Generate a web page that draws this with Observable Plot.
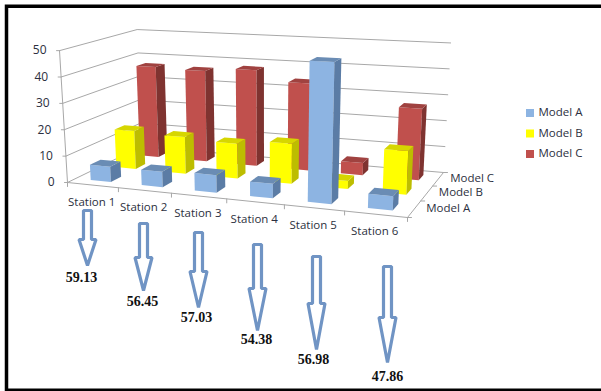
<!DOCTYPE html>
<html>
<head>
<meta charset="utf-8">
<script src="https://cdn.jsdelivr.net/npm/d3@7"></script>
<script src="https://cdn.jsdelivr.net/npm/@observablehq/plot@0.6"></script>
<style>
  html, body { margin: 0; padding: 0; background: #fff; }
  svg { display: block; }
</style>
</head>
<body>
<div id="chart"></div>
<script>
// Category lists
const stations = ["Station 1", "Station 2", "Station 3", "Station 4", "Station 5", "Station 6"];
const models = ["Model A", "Model B", "Model C"];
const valueTicks = [0, 10, 20, 30, 40, 50];

// Series values, one per station
const modelA = [5.8, 5.8, 6.4, 5.2, 50, 4.9];
const modelB = [15, 14.2, 13.3, 15, 3, 15.7];
const modelC = [37, 36.5, 38, 34, 4.7, 27];

// Figure printed beneath each station's arrow
const stationTotals = ["59.13", "56.45", "57.03", "54.38", "56.98", "47.86"];

// Arrow placement under the station labels, in page units
const arrowCentres = [87, 143, 198, 257, 316, 387];
const arrowTops = [210, 223, 232, 244, 256, 266];
const arrowShoulders = [239, 257, 271, 288, 303, 317];
const arrowTips = [268, 293, 310, 333, 352, 365];
const totalX = [81, 142, 196, 256, 313, 387];
const totalY = [277, 301, 317, 339, 359, 376];

// Face colours: front, side, top
const palette = {
  "Model A": ["#8db4e2", "#5b7ca5", "#6a8cb4"],
  "Model B": ["#ffff00", "#bdbd00", "#d6d600"],
  "Model C": ["#c0504d", "#7f3330", "#a04240"]
};
const seriesByModel = {"Model A": modelA, "Model B": modelB, "Model C": modelC};

const width = 601, height = 391;
const maxValue = 50;

// Camera: the floor of the plot box, the point where verticals converge,
// and how far the box rises at the front-left corner
const floorQuad = [[67, 182], [407, 217], [443, 172], [141, 146]];
const verticalVanish = [264, 3438];
const rise = 0.0405;

// Unit-square to quadrilateral perspective mapping
function quadMap([p0, p1, p2, p3]) {
  const dx1 = p1[0] - p2[0], dx2 = p3[0] - p2[0], sx = p0[0] - p1[0] + p2[0] - p3[0];
  const dy1 = p1[1] - p2[1], dy2 = p3[1] - p2[1], sy = p0[1] - p1[1] + p2[1] - p3[1];
  const d = dx1 * dy2 - dx2 * dy1;
  const g = (sx * dy2 - dx2 * sy) / d, h = (dx1 * sy - sx * dy1) / d;
  const a = p1[0] - p0[0] + g * p1[0], b = p3[0] - p0[0] + h * p3[0];
  const e = p1[1] - p0[1] + g * p1[1], f = p3[1] - p0[1] + h * p3[1];
  return (u, v) => {
    const w = g * u + h * v + 1;
    return [(a * u + b * v + p0[0]) / w, (e * u + f * v + p0[1]) / w, w];
  };
}
const onFloor = quadMap(floorQuad);

// station position s in [0, 6], model depth m in [0, 3], value in [0, 50]
function project(s, m, value) {
  const [fx, fy, w] = onFloor(s / stations.length, m / models.length);
  const t = (value / maxValue) * rise / w;
  return [fx + (fx - verticalVanish[0]) * t, fy + (fy - verticalVanish[1]) * t];
}

// Flat list of polygon vertices; each face is one closed line
const faces = [];
function addFace(id, fill, corners) {
  for (const [x, y] of corners) faces.push({id, fill, x, y});
}
const gap = 0.3;
[...models].reverse().forEach(model => {
  const m = models.indexOf(model);
  const [front, side, top] = palette[model];
  seriesByModel[model].forEach((value, i) => {
    const s0 = i + gap, s1 = i + 1 - gap, m0 = m + gap, m1 = m + 1 - gap;
    const key = `${model}-${i}`;
    addFace(key + "-front", front, [project(s0, m0, 0), project(s1, m0, 0), project(s1, m0, value), project(s0, m0, value)]);
    addFace(key + "-side", side, [project(s1, m0, 0), project(s1, m1, 0), project(s1, m1, value), project(s1, m0, value)]);
    addFace(key + "-top", top, [project(s0, m0, value), project(s1, m0, value), project(s1, m1, value), project(s0, m1, value)]);
  });
});

// Wall gridlines, floor edges and tick marks
const rules = [];
function addRule(id, stroke, points) {
  for (const [x, y] of points) rules.push({id, stroke, x, y});
}
const gridColor = "#a8a8a8";
valueTicks.forEach(v => {
  addRule(`grid-${v}`, gridColor, [project(0, 0, v), project(0, 3, v), project(6, 3, v)]);
  const [x, y] = project(0, 0, v);
  addRule(`tick-${v}`, gridColor, [[x, y], [x - 3, y]]);
});
addRule("axis", gridColor, [project(0, 0, 0), project(0, 0, maxValue)]);
addRule("front", gridColor, [project(0, 0, 0), project(6, 0, 0), project(6, 3, 0)]);
d3.range(0, stations.length + 1).forEach(s => {
  const [x, y] = project(s, 0, 0);
  addRule(`station-${s}`, gridColor, [[x, y], [x, y + 4]]);
});
d3.range(0, models.length + 1).forEach(m => {
  const [x, y] = project(6, m, 0);
  addRule(`model-${m}`, gridColor, [[x, y], [x + 4, y]]);
});

const valueLabels = valueTicks.map(v => {
  const [x, y] = project(0, 0, v);
  return {x: x - 13, y, text: String(v)};
});
const stationLabels = stations.map((text, i) => {
  const [x, y] = project(i + 0.5, 0, 0);
  return {x: x - 1, y: y + 17, text};
});
const modelLabels = models.map((text, m) => {
  const [x, y] = project(6, m + 0.5, 0);
  return {x: x + 12, y: y - 1, text};
});

// Outlined block arrows pointing down at each printed figure
const arrows = [];
arrowCentres.forEach((c, i) => {
  const top = arrowTops[i], tip = arrowTips[i], shoulder = arrowShoulders[i];
  [[c - 4, top], [c + 4, top], [c + 4, shoulder], [c + 8.5, shoulder], [c, tip - 3],
   [c - 8.5, shoulder], [c - 4, shoulder]].forEach(([x, y]) => arrows.push({id: i, x, y}));
});
const totalLabels = stationTotals.map((text, i) => ({x: totalX[i], y: totalY[i], text}));

// Legend rows
const legendRows = models.map((text, i) => ({text, fill: palette[text][0], y: 113 + i * 20.5}));

const axisFont = "Open Sans";
const axisInk = "#2c3040";

const plot = Plot.plot({
  width, height,
  margin: 0,
  style: {background: "#fff", fontFamily: axisFont},
  x: {domain: [0, width], range: [0, width], axis: null},
  y: {domain: [0, height], range: [0, height], axis: null},
  marks: [
    Plot.line(rules, {x: "x", y: "y", z: "id", stroke: "stroke", strokeWidth: 1}),
    Plot.line(faces, {x: "x", y: "y", z: "id", fill: "fill", stroke: "none", curve: "linear-closed"}),
    Plot.line(arrows, {x: "x", y: "y", z: "id", fill: "#fff", stroke: "#7094c4", strokeWidth: 3.2, curve: "linear-closed", strokeLinejoin: "miter"}),
    Plot.text(valueLabels, {x: "x", y: "y", text: "text", textAnchor: "end", fontSize: 12, fill: axisInk}),
    Plot.text(stationLabels, {x: "x", y: "y", text: "text", fontSize: 11.5, fill: axisInk}),
    Plot.text(modelLabels, {x: "x", y: "y", text: "text", textAnchor: "start", fontSize: 11.5, fill: axisInk}),
    Plot.text(totalLabels, {x: "x", y: "y", text: "text", fontSize: 14, fontWeight: "bold", fontFamily: "Liberation Serif", fill: "#111"}),
    Plot.rect(legendRows, {x1: 526, x2: 534, y1: d => d.y - 4, y2: d => d.y + 4, fill: "fill"}),
    Plot.text(legendRows, {x: 538, y: d => d.y - 1, text: "text", textAnchor: "start", fontSize: 11.5, fill: axisInk}),
    // Three-sided black border: the right side runs off the page
    Plot.frame({stroke: "#000", strokeWidth: 3.5, insetLeft: 6, insetTop: 5.75, insetRight: -4, insetBottom: 1.25})
  ]
});
document.getElementById("chart").append(plot);
</script>
</body>
</html>
